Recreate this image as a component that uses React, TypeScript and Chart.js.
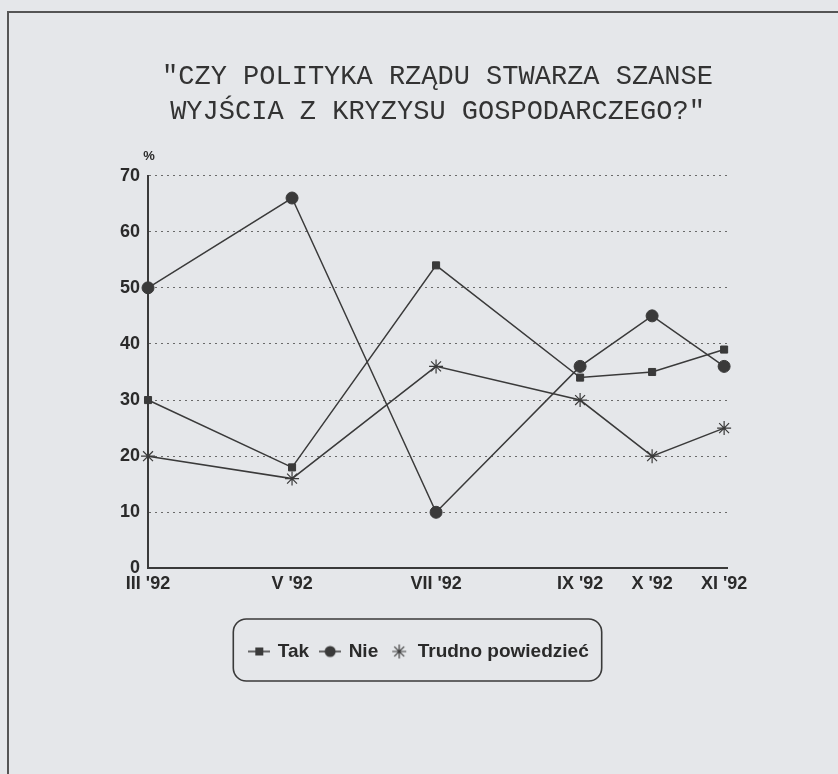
import React, { useEffect, useRef } from 'react';
import { Chart, registerables } from 'chart.js';

Chart.register(...registerables);

// ---- data ----
const months = [3, 5, 7, 9, 10, 11];
const monthLabels = ["III '92", "V '92", "VII '92", "IX '92", "X '92", "XI '92"];
const seriesNames = ['Tak', 'Nie', 'Trudno powiedzieć'];
const takValues = [30, 18, 54, 34, 35, 39];
const nieValues = [50, 66, 10, 36, 45, 36];
const trudnoValues = [20, 16, 36, 30, 20, 25];
const titleLines = ['"CZY POLITYKA RZĄDU STWARZA SZANSE', 'WYJŚCIA Z KRYZYSU GOSPODARCZEGO?"'];
const unitLabel = '%';

const INK = '#3a3a3a';
const TEXT = '#2a2a2a';
const BG = '#e5e7ea';
const SANS = '"Liberation Sans", Arial, sans-serif';

function makeSample(kind: string): HTMLCanvasElement {
  const c = document.createElement('canvas');
  const w = kind === 'star' ? 16 : 22;
  const h = 16;
  c.width = w;
  c.height = h;
  const g = c.getContext('2d')!;
  g.strokeStyle = INK;
  g.fillStyle = INK;
  g.lineWidth = 1.5;
  const cx = w / 2, cy = h / 2;
  if (kind !== 'star') {
    g.beginPath();
    g.moveTo(0, cy);
    g.lineTo(w, cy);
    g.stroke();
  }
  if (kind === 'rect') {
    g.fillRect(cx - 4, cy - 4, 8, 8);
  } else if (kind === 'circle') {
    g.beginPath();
    g.arc(cx, cy, 5.5, 0, Math.PI * 2);
    g.fill();
  } else {
    g.lineWidth = 1.2;
    const r = 7;
    g.beginPath();
    for (let k = 0; k < 4; k++) {
      const a = (k * Math.PI) / 4;
      g.moveTo(cx - r * Math.cos(a), cy - r * Math.sin(a));
      g.lineTo(cx + r * Math.cos(a), cy + r * Math.sin(a));
    }
    g.stroke();
  }
  return c;
}

const percentPlugin = {
  id: 'percentSign',
  afterDraw(chart: any) {
    const { ctx, chartArea } = chart;
    ctx.save();
    ctx.font = `bold 13px ${SANS}`;
    ctx.fillStyle = TEXT;
    ctx.textAlign = 'center';
    ctx.textBaseline = 'middle';
    ctx.fillText(unitLabel, chartArea.left + 1, 156);
    ctx.restore();
  },
};

const legendFramePlugin = {
  id: 'legendFrame',
  afterDraw(chart: any) {
    const lg = chart.legend;
    if (!lg || !lg.legendHitBoxes || !lg.legendHitBoxes.length) return;
    const boxes = lg.legendHitBoxes;
    let l = Infinity, r = -Infinity, t = Infinity, b = -Infinity;
    boxes.forEach((hb: any) => {
      l = Math.min(l, hb.left);
      r = Math.max(r, hb.left + hb.width);
      t = Math.min(t, hb.top);
      b = Math.max(b, hb.top + hb.height);
    });
    const x0 = l - 17, x1 = r + 13, y0 = t - 23, y1 = b + 20;
    const ctx = chart.ctx;
    ctx.save();
    ctx.strokeStyle = INK;
    ctx.lineWidth = 1.6;
    ctx.beginPath();
    (ctx as any).roundRect(x0, y0, x1 - x0, y1 - y0, 13);
    ctx.stroke();
    ctx.restore();
  },
};

export default function App() {
  const ref = useRef<HTMLCanvasElement | null>(null);

  useEffect(() => {
    if (!ref.current) return;
    const samples = [makeSample('rect'), makeSample('circle'), makeSample('star')];
    const mk = (vals: number[]) => months.map((m, i) => ({ x: m, y: vals[i] }));
    const tickFont = { family: SANS, size: 18, weight: 'bold' as const };

    const chart = new Chart(ref.current, {
      type: 'line',
      data: {
        datasets: [
          {
            label: seriesNames[0],
            data: mk(takValues),
            borderColor: INK,
            backgroundColor: INK,
            borderWidth: 1.5,
            pointStyle: 'rect',
            pointRadius: 5,
            pointBorderWidth: 1,
            clip: false,
          },
          {
            label: seriesNames[1],
            data: mk(nieValues),
            borderColor: INK,
            backgroundColor: INK,
            borderWidth: 1.5,
            pointStyle: 'circle',
            pointRadius: 6,
            pointBorderWidth: 1,
            clip: false,
          },
          {
            label: seriesNames[2],
            data: mk(trudnoValues),
            borderColor: INK,
            backgroundColor: INK,
            borderWidth: 1.5,
            pointStyle: 'star',
            pointRadius: 7,
            pointBorderWidth: 1.2,
            clip: false,
          },
        ],
      },
      options: {
        responsive: false,
        animation: false,
        events: [],
        layout: { padding: { top: 20, left: 112, right: 111, bottom: 103 } },
        scales: {
          x: {
            type: 'linear',
            min: 3,
            max: 11.04,
            afterBuildTicks: (s: any) => {
              s.ticks = months.map((v) => ({ value: v }));
            },
            afterFit: (s: any) => {
              s.height += 30;
            },
            ticks: {
              autoSkip: false,
              maxRotation: 0,
              padding: 5,
              color: TEXT,
              font: tickFont,
              callback: (v: any) => {
                const i = months.indexOf(Number(v));
                return i >= 0 ? monthLabels[i] : '';
              },
            },
            grid: { display: false, drawTicks: false },
            border: { display: true, color: INK, width: 2 },
          },
          y: {
            min: 0,
            max: 70,
            ticks: { stepSize: 10, padding: 8, color: TEXT, font: tickFont },
            grid: {
              drawTicks: false,
              lineWidth: 1,
              color: (c: any) => (c.tick && c.tick.value === 0 ? 'rgba(0,0,0,0)' : '#6a6a6a'),
            },
            border: { display: true, color: INK, width: 2, dash: [2, 4] },
          },
        },
        plugins: {
          tooltip: { enabled: false },
          title: {
            display: true,
            text: titleLines,
            fullSize: false,
            color: '#333',
            font: { family: '"Liberation Mono", "Courier New", monospace', size: 27, weight: 'normal', lineHeight: 1.27 },
            padding: { top: 40, bottom: 47 },
          },
          legend: {
            display: true,
            position: 'bottom',
            labels: {
              usePointStyle: true,
              pointStyleWidth: 18,
              padding: 12,
              color: TEXT,
              font: { family: SANS, size: 19, weight: 'bold' },
              generateLabels: (ch: any) =>
                Chart.defaults.plugins.legend.labels.generateLabels(ch).map((it: any, i: number) => ({
                  ...it,
                  pointStyle: samples[i],
                })),
            },
          },
        },
      } as any,
      plugins: [percentPlugin, legendFramePlugin],
    });
    return () => chart.destroy();
  }, []);

  return (
    <div style={{ position: 'absolute', left: 0, top: 0, width: 838, height: 774, background: BG, overflow: 'hidden' }}>
      <div
        style={{
          position: 'absolute',
          left: 7,
          top: 11,
          width: 900,
          height: 900,
          borderLeft: '2px solid #555',
          borderTop: '2px solid #555',
        }}
      />
      <canvas ref={ref} width={838} height={774} style={{ position: 'absolute', left: 0, top: 0, width: 838, height: 774 }} />
    </div>
  );
}
